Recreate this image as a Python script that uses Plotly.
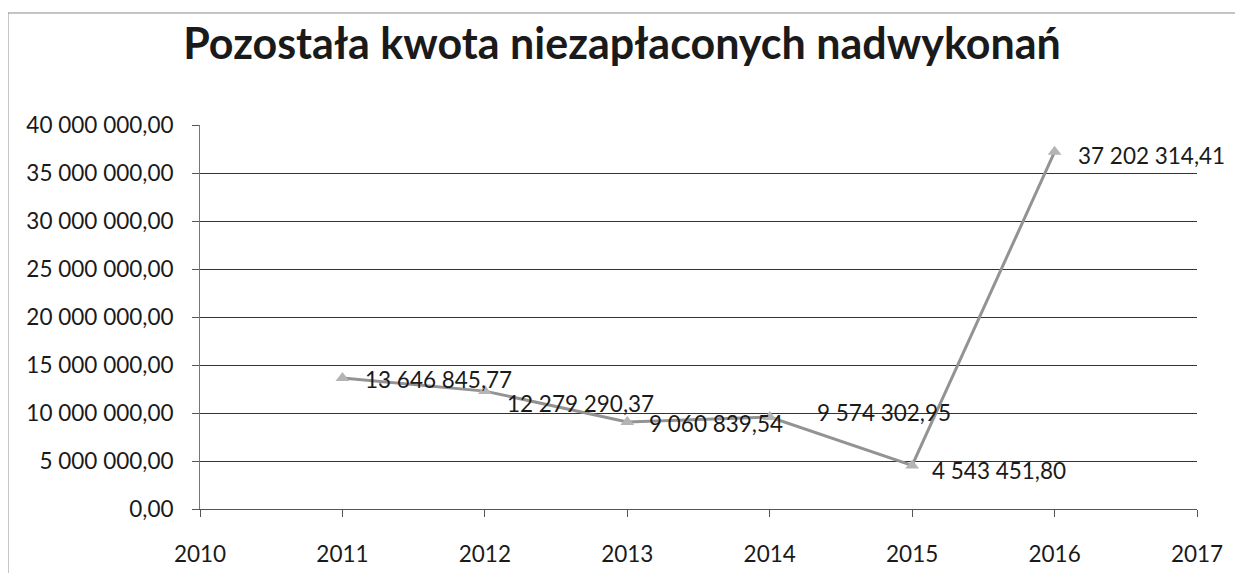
import plotly.graph_objects as go

years = [2011, 2012, 2013, 2014, 2015, 2016]
values = [13646845.77, 12279290.37, 9060839.54, 9574302.95, 4543451.80, 37202314.41]
y_ticks = [0, 5000000, 10000000, 15000000, 20000000, 25000000, 30000000, 35000000, 40000000]
x_ticks = [2010, 2011, 2012, 2013, 2014, 2015, 2016, 2017]
title = "Pozostała kwota niezapłaconych nadwykonań"

# label offsets (pixels) – style only
label_dx = [21, 20, 20, 45, 18, 21]
label_dy = [-2, -12, -1, 5, -5, -4]


def pl(v):
    return f"{v:,.2f}".replace(",", " ").replace(".", ",")


FONT = "Lato, 'Open Sans', sans-serif"

fig = go.Figure()
fig.add_trace(go.Scatter(
    x=years, y=values, mode="lines+markers",
    line=dict(color="#939393", width=3),
    marker=dict(symbol="triangle-up", size=12, color="#b4b4b4"),
    hoverinfo="skip", showlegend=False,
))

for x, v, dx, dy in zip(years, values, label_dx, label_dy):
    fig.add_annotation(x=x, y=v, text=pl(v), showarrow=False,
                       xanchor="left", yanchor="middle", xshift=dx, yshift=dy,
                       font=dict(family=FONT, size=22.5, color="#1a1a1a"))

# outer frame (left & top edges visible)
fig.add_shape(type="line", xref="paper", yref="paper", x0=-0.1926, x1=1.06, y0=1.2917, y1=1.2917,
              line=dict(color="#888888", width=1))
fig.add_shape(type="line", xref="paper", yref="paper", x0=-0.1926, x1=-0.1926, y0=1.2917, y1=-0.2,
              line=dict(color="#888888", width=1))

fig.update_layout(
    width=1243, height=573,
    margin=dict(l=192, r=54, t=117, b=72),
    paper_bgcolor="white", plot_bgcolor="white",
    title=dict(text=title, x=0.494, xanchor="center", y=0.937, yanchor="middle",
               font=dict(family=FONT, size=43, color="#1a1a1a", weight="bold")),
    font=dict(family=FONT, size=22.5, color="#1a1a1a"),
)
fig.update_xaxes(
    range=[2010, 2017], tickvals=x_ticks, ticktext=[str(t) for t in x_ticks],
    showgrid=False, showline=True, linecolor="#555555", linewidth=1,
    ticks="outside", ticklen=7, tickcolor="#555555", ticklabelstandoff=18,
    zeroline=False,
)
fig.update_yaxes(
    range=[0, 40000000], tickvals=y_ticks, ticktext=[pl(t) for t in y_ticks],
    showgrid=True, gridcolor="#333333", gridwidth=1,
    showline=True, linecolor="#777777", linewidth=1,
    ticks="outside", ticklen=7, tickcolor="#555555", ticklabelstandoff=14,
    zeroline=False,
)

fig.write_html("out.html")
